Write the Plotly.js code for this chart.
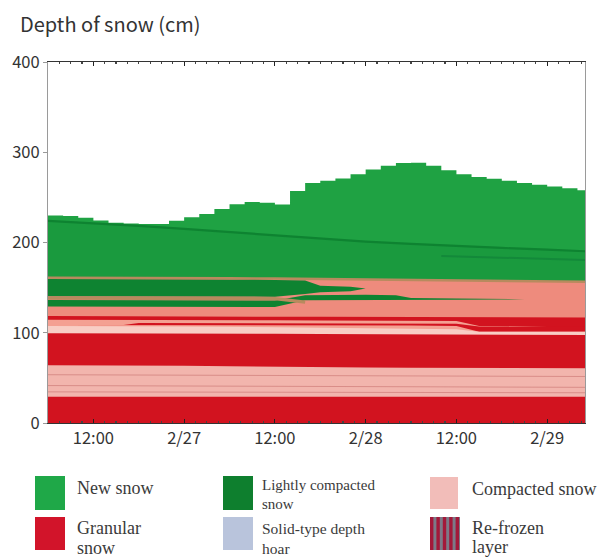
<!DOCTYPE html>
<html>
<head>
<meta charset="utf-8">
<script src="https://cdn.plot.ly/plotly-3.0.1.min.js"></script>
<style>html,body{margin:0;padding:0;background:#fff;}</style>
</head>
<body>
<div id="chart" style="width:600px;height:560px;"></div>
<script>
// Times are hours since 2012-02-26 00:00
const surfaceHours = [6,8,10,12,14,16,18,20,22,24,26,28,30,32,34,36,38,40,42,44,46,48,50,52,54,56,58,60,62,64,66,68,70,72,74,76,78];
const surfaceDepth = [230,229.5,227.5,224.5,222,221,220.5,220.5,224,228,231.5,237,242.5,245,244,242,257,266,268.5,271,275.5,281,285,288,288.5,285,280,275.5,272.5,270.5,268.5,266,264,262,260,258,257];

const gridHours = [6,12,18,24,30,36,42,48,54,60,66,72,78];
const newSnowBaseTop = [224,221.5,218.5,215,211.5,208,204,201,198.5,196,194,192,190];
const olderLineHours = [58,66,72,78];
const olderLineDepth = [185,183.5,182,180.5];
const lowerZoneTop = [161,161,160.8,160.5,160.3,160,159.5,158.5,158,157.5,157,156.8,156.5];

const bandAHours = [6,12,18,24,30,36,40,42,46,48];
const bandATop = [159.5,159.5,159.3,159,158.8,158.5,158,152,151,149];
const bandABottom = [140.5,140.5,140.3,140.2,140,140,143,145,146,149];
const bandBHours = [6,12,18,24,30,36,40,44,48,52,54,60,66,69];
const bandBTop = [136.3,136.3,136.2,136,135.8,135.6,141.5,142,142,141.5,138.5,138,137.5,137.2];
const bandBBottom = [129,129,128.9,128.8,128.7,128.5,136,136,136,136.2,136.5,136.6,136.8,137.2];
const tanLineHours = [6,12,18,24,30,36,40];
const tanLineDepth = [138.4,138.4,138.3,138.1,138,137.8,134];

const redLine1Top = [118.5,118.5,118.3,118.2,118,117.8,117.6,117.5,117.4,117.3,117.2,117,117];
const splitHours = [6,12,18,24,30,36,42,48,54,60,63,66,72,78];
const salmonLightTop = [114.5,114.5,114.4,114.2,114,113.8,113.6,113.4,113.2,113,107.5,107,106.5,106.5];
const redLine2Hours = [6,16,18,24,30,36,42,48,54,60,63,78];
const redLine2Top = [108.5,108.5,110.8,110.7,110.6,110.5,110.4,110.3,110.2,110,106.8,106.5];
const salmonLowerTop = [108.5,108.5,108.4,108.3,108.2,108.1,108,108,108,107.5,101,101,101,101];
const lightPinkTop = [107.5,107.5,107.3,107,106.6,106.2,105.7,105.2,104.6,104,101.2,101.2,101,101];
const redMidTop = [99.5,99.5,99.3,99.2,99,98.8,98.6,98.4,98.2,98,97.8,97.6,97.4];
const pinkLowTop = [64,64,63.8,63.5,63,62.3,61.8,61.5,61.2,61,60.9,60.8,60.6];
const edgeHours = [6,78];
const pinkLine1 = [53.5,51.5];
const pinkLine2 = [41.5,39.5];
const pinkLine3 = [34.5,33.5];
const redBottomTop = [29,29];

const tickHours = [12,24,36,48,60,72];
const tickLabels = ['12:00','2/27','12:00','2/28','12:00','2/29'];

const legendNames = ['New snow','Lightly compacted','snow','Compacted snow','Granular','snow','Solid-type depth','hoar','Re-frozen','layer'];

const C = {
  newSnow:'#1FA243', newSnowLow:'#1A9A3E', darkGreen:'#0E8331', tan:'#B88A5E',
  salmon:'#EE8B7D', salmonLight:'#F4A092', red:'#D2131F', lightPink:'#F8CEC5',
  pink:'#F2B5AD', pinkLine:'#D98D88', hoar:'#B9C4DC', legendPink:'#F2BDB9'
};

function pad(n){return (n<10?'0':'')+n;}
function toDate(h){
  const day = 26 + Math.floor(h/24);
  const rem = h - 24*Math.floor(h/24);
  const hh = Math.floor(rem);
  const mm = Math.round((rem-hh)*60);
  return '2012-02-' + day + ' ' + pad(hh) + ':' + pad(mm);
}
function area(hours, depth, color, shape, lineColor, lineWidth){
  return {x: hours.map(toDate), y: depth, type:'scatter', mode:'lines', fill:'tozeroy',
    fillcolor: color, line:{width: lineWidth||0, color: lineColor||color, shape: shape||'linear'}, hoverinfo:'skip'};
}
function band(hours, top, bottom, color){
  const xs = hours.map(toDate);
  return {x: xs.concat(xs.slice().reverse()), y: top.concat(bottom.slice().reverse()),
    type:'scatter', mode:'lines', fill:'toself', fillcolor: color, line:{width:0}, hoverinfo:'skip'};
}
function line(hours, depth, color, width){
  return {x: hours.map(toDate), y: depth, type:'scatter', mode:'lines',
    line:{color: color, width: width}, hoverinfo:'skip'};
}

const traces = [
  area(surfaceHours, surfaceDepth, C.newSnow, 'hv'),
  area(gridHours, newSnowBaseTop, C.newSnowLow, 'linear', C.darkGreen, 2.2),
  line(olderLineHours, olderLineDepth, '#13893A', 2),
  area(gridHours, lowerZoneTop, C.salmon, 'linear', C.tan, 2.5),
  band(bandAHours, bandATop, bandABottom, C.darkGreen),
  band(bandBHours, bandBTop, bandBBottom, C.darkGreen),
  line(tanLineHours, tanLineDepth, C.tan, 3.2),
  area(gridHours, redLine1Top, C.red),
  area(splitHours, salmonLightTop, C.salmonLight),
  area(redLine2Hours, redLine2Top, C.red),
  area(splitHours, salmonLowerTop, C.salmonLight),
  area(splitHours, lightPinkTop, C.lightPink),
  area(gridHours, redMidTop, C.red),
  area(gridHours, pinkLowTop, C.pink),
  line(edgeHours, pinkLine1, C.pinkLine, 1),
  line(edgeHours, pinkLine2, C.pinkLine, 1),
  line(edgeHours, pinkLine3, C.pinkLine, 1),
  area(edgeHours, redBottomTop, C.red)
];

// pixel -> paper helpers for the legend block
const L = 48, R = 585, T = 62, B = 423;
function px(x){return (x-L)/(R-L);}
function py(y){return (B-y)/(B-T);}
function rect(x0,y0,x1,y1,color){
  return {type:'rect', xref:'paper', yref:'paper', x0:px(x0), x1:px(x1), y0:py(y1), y1:py(y0),
    fillcolor:color, line:{width:0}, layer:'above'};
}
const shapes = [
  rect(35,476,65,510,'#1FA848'),
  rect(223,476,253,510,'#0E7F2E'),
  rect(430,477,458,509,C.legendPink),
  rect(35,517,65,550,'#D2142A'),
  rect(223,517,253,550,C.hoar),
  rect(430,517,460,550,'#7C7A88')
];
for (let i = 0; i < 5; i++) {
  shapes.push(rect(430 + i*6.4, 517, 430 + i*6.4 + 3.4, 550, '#A3193A'));
}
function label(text, x, y, size){
  return {text: text, x: px(x), y: py(y), xref:'paper', yref:'paper', xanchor:'left', yanchor:'middle',
    showarrow:false, font:{family:'Liberation Serif, Times New Roman, serif', size: size, color:'#3a3a3a'}};
}
const annotations = [
  label(legendNames[0], 75, 488, 18),
  label(legendNames[1], 260, 485, 15),
  label(legendNames[2], 260, 504, 15),
  label(legendNames[3], 470, 489, 18),
  label(legendNames[4], 75, 528, 18),
  label(legendNames[5], 75, 548, 18),
  label(legendNames[6], 260, 528, 15.5),
  label(legendNames[7], 260, 548, 15.5),
  label(legendNames[8], 470, 528, 18),
  label(legendNames[9], 470, 547, 18)
];

const axisFont = {family:'Noto Sans CJK JP, DejaVu Sans, sans-serif', size:16.5, color:'#333'};
const layout = {
  width:600, height:560,
  margin:{l:L, r:600-R, t:T, b:560-B},
  paper_bgcolor:'#ffffff', plot_bgcolor:'#ffffff',
  showlegend:false,
  title:{text:'Depth of snow (cm)', x:20/600, xref:'container', xanchor:'left',
    y:1-25/560, yref:'container', yanchor:'middle',
    font:{family:'Noto Sans CJK JP, DejaVu Sans, sans-serif', size:20, color:'#333'}},
  xaxis:{type:'date', range:[toDate(6), toDate(77)],
    tickmode:'array', tickvals: tickHours.map(toDate), ticktext: tickLabels,
    ticks:'inside', ticklen:4, tickwidth:1.2, tickcolor:'#222',
    showline:true, linecolor:'#333', linewidth:1, mirror:'allticks',
    showgrid:false, zeroline:false, tickfont: axisFont, fixedrange:true,
    minor:{tickmode:'linear', tick0: toDate(0), dtick: 5400000, ticks:'inside', ticklen:2, tickcolor:'#444', showgrid:false}},
  yaxis:{range:[0,400], tickmode:'array', tickvals:[0,100,200,300,400],
    ticks:'outside', ticklen:4, tickcolor:'#999',
    showline:true, linecolor:'#9a9a9a', mirror:true, showgrid:false, zeroline:false,
    tickfont: axisFont, fixedrange:true},
  shapes: shapes,
  annotations: annotations
};

Plotly.newPlot('chart', traces, layout, {staticPlot:true, displayModeBar:false});
</script>
</body>
</html>
